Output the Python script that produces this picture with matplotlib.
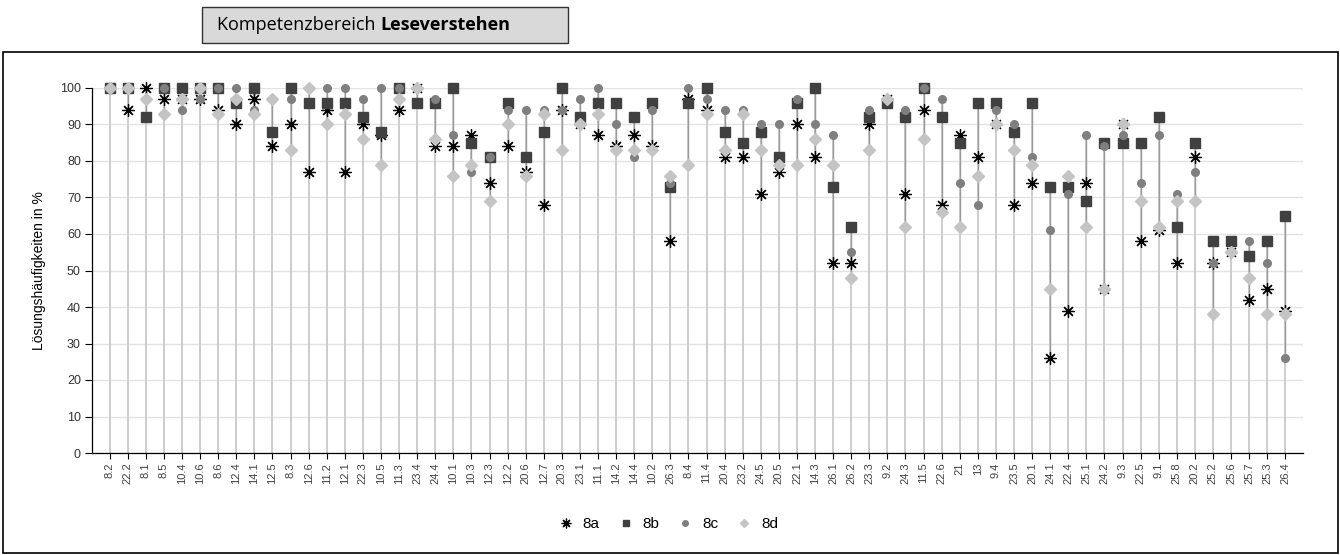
import numpy as np
import matplotlib
matplotlib.use("Agg")
import matplotlib.pyplot as plt
from matplotlib.patches import Rectangle
from matplotlib.lines import Line2D

plt.rcParams['font.family'] = ['Liberation Sans', 'DejaVu Sans']

# Aufgaben (Items) in Reihenfolge der Grafik
items = ['8.2', '22.2', '8.1', '8.5', '10.4', '10.6', '8.6', '12.4', '14.1', '12.5',
         '8.3', '12.6', '11.2', '12.1', '22.3', '10.5', '11.3', '23.4', '24.4', '10.1',
         '10.3', '12.3', '12.2', '20.6', '12.7', '20.3', '23.1', '11.1', '14.2', '14.4',
         '10.2', '26.3', '8.4', '11.4', '20.4', '23.2', '24.5', '20.5', '22.1', '14.3',
         '26.1', '26.2', '23.3', '9.2', '24.3', '11.5', '22.6', '21', '13', '9.4',
         '23.5', '20.1', '24.1', '22.4', '25.1', '24.2', '9.3', '22.5', '9.1', '25.8',
         '20.2', '25.2', '25.6', '25.7', '25.3', '26.4']

# Lösungshäufigkeiten je Klasse
k8a = [100, 94, 100, 97, 97, 97, 94, 90, 97, 84, 90, 77, 94, 77, 90,
       87, 94, 100, 84, 84, 87, 74, 84, 77, 68, 94, 90, 87, 84, 87, 84, 58, 97, 94,
       81, 81, 71, 77, 90, 81, 52, 52, 90, 97, 71, 94, 68, 87, 81, 90, 68, 74,
       26, 39, 74, 45, 90, 58, 61, 52, 81, 52, 55, 42, 45, 39]
k8b = [100, 100, 92, 100, 100, 100, 100, 96, 100, 88, 100, 96, 96, 96, 92,
       88, 100, 96, 96, 100, 85, 81, 96, 81, 88, 100, 92, 96, 96, 92, 96, 73, 96, 100,
       88, 85, 88, 81, 96, 100, 73, 62, 92, 96, 92, 100, 92, 85, 96, 96, 88, 96,
       73, 73, 69, 85, 85, 85, 92, 62, 85, 58, 58, 54, 58, 65]
k8c = [100, 100, 97, 100, 94, 97, 100, 100, 94, 97, 97, 100, 100, 100, 97,
       100, 100, 100, 97, 87, 77, 81, 94, 94, 94, 94, 97, 100, 90, 81, 94, 74, 100, 97,
       94, 94, 90, 90, 97, 90, 87, 55, 94, 97, 94, 100, 97, 74, 68, 94, 90, 81,
       61, 71, 87, 84, 87, 74, 87, 71, 77, 52, 55, 58, 52, 26]
k8d = [100, 100, 97, 93, 97, 100, 93, 97, 93, 97, 83, 100, 90, 93, 86,
       79, 97, 100, 86, 76, 79, 69, 90, 76, 93, 83, 90, 93, 83, 83, 83, 76, 79, 93,
       83, 93, 83, 79, 79, 86, 79, 48, 83, 97, 62, 86, 66, 62, 76, 90, 83, 79,
       45, 76, 62, 45, 90, 69, 62, 69, 69, 38, 55, 48, 38, 38]

klassen = ['8a', '8b', '8c', '8d']

x = np.arange(len(items))
alle = np.array([k8a, k8b, k8c, k8d])
hi = alle.max(axis=0)
lo = alle.min(axis=0)

fig = plt.figure(figsize=(13.4, 5.55), dpi=100)
ax = fig.add_axes([92 / 1340, 1 - 453 / 555, (1303 - 92) / 1340, (453 - 88) / 555])

# Gitternetz
ax.set_ylim(0, 100)
ax.set_xlim(-0.98, len(items) - 0.02)
ax.set_yticks(range(0, 101, 10))
ax.yaxis.grid(True, color='#e3e3e3', linewidth=1)
ax.set_axisbelow(True)

# Bezugslinien und Spannweite
ax.vlines(x, 0, hi, color='#cdcdcd', linewidth=1.4, zorder=1)
ax.vlines(x, lo, hi, color='#9a9a9a', linewidth=1.0, zorder=2)

ast = (8, 2, 0)
ax.plot(x, k8a, ls='none', marker=ast, ms=9, mec='black', mew=0.9, color='black',
        clip_on=False, zorder=3, label='8a')
ax.plot(x, k8b, ls='none', marker='s', ms=6.5, color='#404040', mec='#404040',
        clip_on=False, zorder=4, label='8b')
ax.plot(x, k8c, ls='none', marker='o', ms=5.5, color='#7f7f7f', mec='#7f7f7f',
        clip_on=False, zorder=5, label='8c')
ax.plot(x, k8d, ls='none', marker='D', ms=6, color='#c4c4c4', mec='#c4c4c4',
        clip_on=False, zorder=6, label='8d')

ax.set_xticks(x)
ax.set_xticklabels(items, rotation=90, fontsize=8, color='#404040')
ax.tick_params(axis='x', length=4, width=0.8, pad=3)
ax.tick_params(axis='y', length=5, width=0.8, labelsize=9, pad=3)
ax.tick_params(axis='y', colors='black', labelcolor='#333333')
for s in ['top', 'right']:
    ax.spines[s].set_visible(False)
for s in ['left', 'bottom']:
    ax.spines[s].set_linewidth(0.9)
    ax.spines[s].set_color('black')

ax.set_ylabel('Lösungshäufigkeiten in %', fontsize=10, labelpad=10)

# Legende
handles = [Line2D([], [], ls='none', marker=ast, ms=7, mec='black', mew=0.9, color='black'),
           Line2D([], [], ls='none', marker='s', ms=5, color='#404040'),
           Line2D([], [], ls='none', marker='o', ms=4, color='#7f7f7f'),
           Line2D([], [], ls='none', marker='D', ms=4, color='#c4c4c4')]
fig.legend(handles, klassen, loc='center', bbox_to_anchor=(668 / 1340, 1 - 524 / 555),
           ncol=4, frameon=False, fontsize=11, handletextpad=0.6, columnspacing=1.2,
           handlelength=1.0)

# Rahmen um Diagramm
fig.patches.append(Rectangle((3 / 1340, 1 - 553 / 555), (1338 - 3) / 1340, (553 - 52) / 555,
                             transform=fig.transFigure, fill=False, edgecolor='black',
                             linewidth=1.2))

# Titelkasten
fig.patches.append(Rectangle((202 / 1340, 1 - 43 / 555), (568 - 202) / 1340, (43 - 7) / 555,
                             transform=fig.transFigure, facecolor='#d9d9d9',
                             edgecolor='#333333', linewidth=1.0))
t1 = fig.text(217 / 1340, 1 - 25 / 555, 'Kompetenzbereich ', fontsize=13,
              family=['Open Sans', 'DejaVu Sans'], va='center', ha='left')
fig.canvas.draw()
bb = t1.get_window_extent()
fig.text(bb.x1 / 1340, 1 - 25 / 555, 'Leseverstehen', fontsize=13, fontweight='bold',
         family=['Open Sans', 'DejaVu Sans'], va='center', ha='left')

fig.savefig('out.png', dpi=100)
